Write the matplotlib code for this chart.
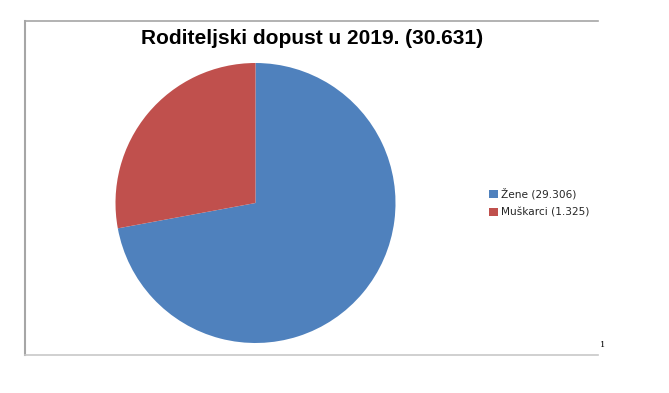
import matplotlib
matplotlib.use("Agg")
import matplotlib.pyplot as plt
from matplotlib.lines import Line2D
from matplotlib.patches import Patch

categories = ["Žene (29.306)", "Muškarci (1.325)"]
slice_shares = [72.1, 27.9]
colors = ["#4F81BD", "#C0504D"]
title = "Roditeljski dopust u 2019. (30.631)"

W, H = 669, 393
fig = plt.figure(figsize=(W / 100, H / 100), dpi=100)

def fx(x): return x / W
def fy(y): return 1 - y / H
fig.add_artist(Line2D([fx(25), fx(25)], [fy(21), fy(355)], color="#a6a6a6", lw=1.5))
fig.add_artist(Line2D([fx(25), fx(598)], [fy(21), fy(21)], color="#a6a6a6", lw=1.2))
fig.add_artist(Line2D([fx(25), fx(598)], [fy(355), fy(355)], color="#c8c8c8", lw=1.2))

cx, cy, r = 255.5, 203, 140
ax = fig.add_axes([fx(cx - r), fy(cy + r), 2 * r / W, 2 * r / H])
ax.pie(slice_shares, colors=colors, startangle=90, counterclock=False,
       wedgeprops=dict(linewidth=0))
ax.set_xlim(-1, 1)
ax.set_ylim(-1, 1)
ax.set_aspect("equal")
ax.axis("off")

fig.text(fx(312), fy(38), title, ha="center", va="center", fontsize=15,
         fontweight="bold", family="Liberation Sans", color="#000000")

handles = [Patch(facecolor=c, edgecolor="none") for c in colors]
leg = fig.legend(handles, categories, loc="center left",
                 bbox_to_anchor=(fx(484), fy(203)), frameon=False,
                 handlelength=0.8, handleheight=0.8,
                 handletextpad=0.3, labelspacing=0.75, borderpad=0,
                 prop={"family": "DejaVu Sans", "size": 7.6})
for t in leg.get_texts():
    t.set_color("#262626")

fig.text(fx(603), fy(345), "1", fontsize=6, ha="center", va="center",
         family="DejaVu Serif")

fig.savefig("out.png", dpi=100)
